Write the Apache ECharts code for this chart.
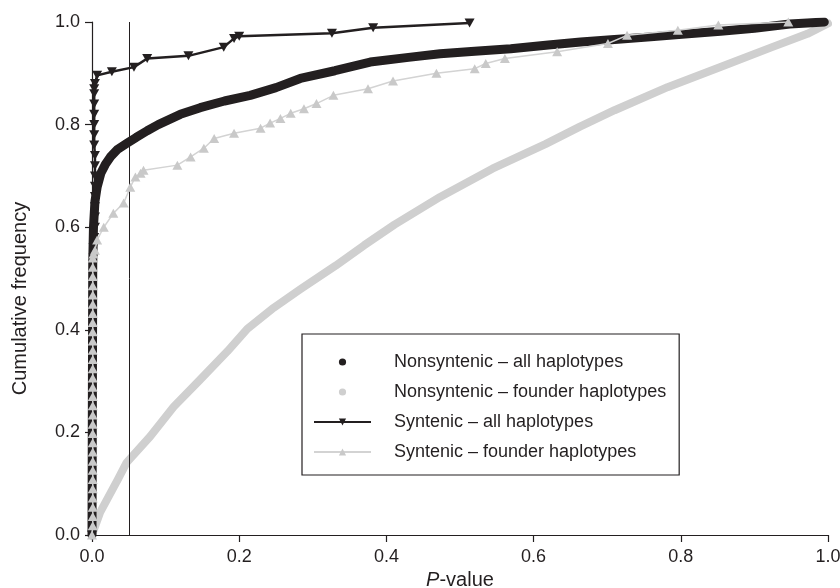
<!DOCTYPE html>
<html>
<head>
<meta charset="utf-8">
<script src="https://cdn.jsdelivr.net/npm/echarts@6/dist/echarts.min.js"></script>
<style>
  html, body { margin: 0; padding: 0; background: #fff; }
  #chart { width: 840px; height: 588px; }
</style>
</head>
<body>
<div id="chart"></div>
<script>
// series names (legend order)
const seriesNames = [
  "Nonsyntenic – all haplotypes",
  "Nonsyntenic – founder haplotypes",
  "Syntenic – all haplotypes",
  "Syntenic – founder haplotypes"
];
const axisTicks = [0, 0.2, 0.4, 0.6, 0.8, 1.0];

// Nonsyntenic - all haplotypes (P-value, cumulative frequency)
const nonAllP = [0, 0.001, 0.002, 0.004, 0.007, 0.012, 0.018, 0.025, 0.035, 0.048, 0.06, 0.075, 0.09, 0.12, 0.147, 0.18, 0.215, 0.25, 0.283, 0.33, 0.378, 0.43, 0.473, 0.52, 0.569, 0.62, 0.664, 0.71, 0.759, 0.81, 0.854, 0.9, 0.948, 0.972, 0.995];
const nonAllF = [0, 0.53, 0.6, 0.65, 0.678, 0.705, 0.722, 0.737, 0.752, 0.764, 0.775, 0.788, 0.8, 0.82, 0.833, 0.846, 0.857, 0.872, 0.89, 0.905, 0.922, 0.931, 0.938, 0.943, 0.948, 0.955, 0.961, 0.966, 0.971, 0.977, 0.982, 0.988, 0.996, 0.998, 1.0];

// Nonsyntenic - founder haplotypes
const nonFoundP = [0, 0.011, 0.035, 0.047, 0.079, 0.111, 0.145, 0.184, 0.211, 0.247, 0.283, 0.331, 0.37, 0.411, 0.473, 0.544, 0.616, 0.663, 0.71, 0.782, 0.853, 0.924, 0.972, 1.0];
const nonFoundF = [0, 0.044, 0.108, 0.141, 0.192, 0.25, 0.3, 0.358, 0.402, 0.443, 0.479, 0.525, 0.565, 0.605, 0.659, 0.714, 0.762, 0.796, 0.828, 0.873, 0.912, 0.951, 0.977, 0.997];

// Syntenic - all haplotypes
const synAllP = [0, 0.002, 0.002, 0.003, 0.004, 0.004, 0.004, 0.004, 0.004, 0.004, 0.004, 0.004, 0.003, 0.003, 0.003, 0.003, 0.003, 0.003, 0.003,
  0.004, 0.007, 0.027, 0.057, 0.075, 0.131, 0.179, 0.193, 0.2, 0.326, 0.382, 0.513];
const synAllF = [0, 0.54, 0.56, 0.58, 0.6, 0.62, 0.64, 0.66, 0.68, 0.7, 0.72, 0.74, 0.76, 0.78, 0.8, 0.82, 0.84, 0.86, 0.87,
  0.88, 0.896, 0.903, 0.912, 0.929, 0.934, 0.951, 0.968, 0.972, 0.978, 0.989, 0.998];

// Syntenic - founder haplotypes
const synFoundP = [0, 0.001, 0.001, 0.001, 0.001, 0.001, 0.001, 0.001, 0.001, 0.001, 0.001, 0.001, 0.001, 0.001, 0.001, 0.001, 0.001, 0.001, 0.001, 0.001, 0.001, 0.001, 0.001, 0.001, 0.001, 0.001, 0.001, 0.001, 0.001, 0.001, 0.001, 0.002,
  0.004, 0.007, 0.016, 0.029, 0.043, 0.052, 0.059, 0.066, 0.07, 0.116, 0.134, 0.152, 0.166, 0.193, 0.229, 0.242, 0.256, 0.27, 0.288, 0.305, 0.328, 0.375, 0.409, 0.468, 0.52, 0.535, 0.561, 0.632, 0.701, 0.727, 0.796, 0.851, 0.946];
const synFoundF = [0, 0.018, 0.036, 0.054, 0.072, 0.09, 0.108, 0.126, 0.144, 0.162, 0.18, 0.198, 0.216, 0.234, 0.252, 0.27, 0.288, 0.306, 0.324, 0.342, 0.36, 0.378, 0.396, 0.414, 0.432, 0.45, 0.468, 0.486, 0.504, 0.522, 0.54, 0.548,
  0.555, 0.575, 0.6, 0.627, 0.647, 0.678, 0.698, 0.705, 0.711, 0.721, 0.737, 0.754, 0.773, 0.783, 0.793, 0.803, 0.812, 0.822, 0.831, 0.841, 0.857, 0.87, 0.885, 0.9, 0.909, 0.919, 0.929, 0.942, 0.958, 0.974, 0.984, 0.994, 1.0];

// vertical reference line (P cut-off)
const cutoff = 0.047;

const BLACK = "#231f20";
const GREY = "#cfcfcf";
const FONT = "Liberation Sans";

function zip(xs, ys) {
  return xs.map((x, i) => [x, ys[i]]);
}

let chartDom = document.getElementById("chart");
let myChart = echarts.init(chartDom, null, { renderer: "canvas" });

const axisCommon = {
  type: "value",
  min: 0,
  max: 1,
  interval: 0.2,
  axisLine: { show: true, lineStyle: { color: BLACK, width: 1.2 } },
  axisTick: { show: true, length: 7, lineStyle: { color: BLACK, width: 1.2 } },
  splitLine: { show: false },
  axisLabel: {
    color: BLACK,
    fontFamily: FONT,
    fontSize: 18,
    formatter: (v) => v.toFixed(1),
    customValues: axisTicks
  }
};

const option = {
  animation: false,
  backgroundColor: "#fff",
  grid: { left: 92, right: 12, top: 22, bottom: 53, outerBoundsMode: "none" },
  xAxis: Object.assign({}, axisCommon, {
    name: "{i|P}-value",
    nameLocation: "middle",
    nameGap: 32,
    axisLabel: Object.assign({}, axisCommon.axisLabel, { margin: 13 }),
    nameTextStyle: {
      color: BLACK, fontFamily: FONT, fontSize: 20,
      rich: { i: { fontStyle: "italic", fontFamily: FONT, fontSize: 20, color: BLACK } }
    }
  }),
  yAxis: Object.assign({}, axisCommon, {
    name: "Cumulative frequency",
    nameLocation: "middle",
    nameGap: 62,
    axisLabel: Object.assign({}, axisCommon.axisLabel, { margin: 12 }),
    // shifted a little downwards like the original
    nameTextStyle: { color: BLACK, fontFamily: FONT, fontSize: 20, padding: [0, 40, 0, 0] }
  }),
  legend: {
    orient: "vertical",
    left: 302,
    top: 334,
    padding: [19, 13, 14, 11],
    itemWidth: 57,
    itemHeight: 9,
    itemGap: 12,
    selectedMode: false,
    borderColor: BLACK,
    borderWidth: 1.2,
    textStyle: { color: BLACK, fontFamily: FONT, fontSize: 18, lineHeight: 17, padding: [0, 0, 0, 18] },
    data: [
      { name: seriesNames[0], lineStyle: { opacity: 0, width: 0 } },
      { name: seriesNames[1], lineStyle: { opacity: 0, width: 0 } },
      { name: seriesNames[2] },
      { name: seriesNames[3] }
    ]
  },
  series: [
    {
      name: seriesNames[1],
      type: "line",
      data: zip(nonFoundP, nonFoundF),
      symbol: "circle",
      showSymbol: false,
      itemStyle: { color: GREY },
      lineStyle: { color: GREY, width: 8, cap: "round", join: "round" },
      z: 2
    },
    {
      name: seriesNames[0],
      type: "line",
      data: zip(nonAllP, nonAllF),
      symbol: "circle",
      showSymbol: false,
      itemStyle: { color: BLACK },
      lineStyle: { color: BLACK, width: 9, cap: "round", join: "round" },
      z: 3,
      markLine: {
        silent: true,
        symbol: "none",
        label: { show: false },
        lineStyle: { color: BLACK, width: 1, type: "solid" },
        data: [{ xAxis: cutoff }]
      }
    },
    {
      name: seriesNames[2],
      type: "line",
      data: zip(synAllP, synAllF),
      symbol: "path://M0,0 L10,0 L5,9 Z",
      symbolSize: [10, 9],
      showAllSymbol: true,
      itemStyle: { color: BLACK },
      lineStyle: { color: BLACK, width: 2.5 },
      z: 4
    },
    {
      name: seriesNames[3],
      type: "line",
      data: zip(synFoundP, synFoundF),
      symbol: "triangle",
      symbolSize: [10, 9],
      showAllSymbol: true,
      itemStyle: { color: "#c9c9c9" },
      lineStyle: { color: "#d3d3d3", width: 1.5 },
      z: 5
    }
  ]
};

option && myChart.setOption(option);
</script>
</body>
</html>
